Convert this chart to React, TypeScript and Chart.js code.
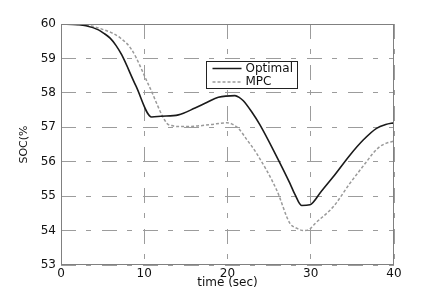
import React, { useEffect, useRef } from "react";
import { Chart, registerables } from "chart.js";

Chart.register(...registerables);

const optimalT = [0, 2, 3, 4.5, 5.2, 5.9, 6.6, 7.3, 9, 10.9, 12, 14.1, 16.1, 17.5, 18.9, 20.9, 21.4, 21.9, 22.9, 23.9, 25.8, 27.5, 28.1, 28.9, 29.9, 31.3, 32.7, 34.7, 36.3, 37.9, 39, 40];
const optimalSoc = [60, 59.98, 59.95, 59.83, 59.72, 59.59, 59.38, 59.1, 58.2, 57.3, 57.32, 57.36, 57.56, 57.72, 57.87, 57.92, 57.87, 57.77, 57.45, 57.07, 56.2, 55.37, 55.05, 54.73, 54.75, 55.15, 55.56, 56.19, 56.63, 56.97, 57.08, 57.13];

const mpcT = [0, 3, 5.3, 6.3, 7.1, 8.5, 10.6, 12.7, 13.3, 14.1, 16, 18, 19.9, 20.5, 21.3, 22.3, 23.5, 25.9, 27.5, 28.3, 29.1, 29.9, 30.5, 32.7, 34.7, 36.7, 37.5, 38.3, 39.1, 40];
const mpcSoc = [60, 59.97, 59.82, 59.72, 59.6, 59.25, 58.19, 57.12, 57.05, 57.02, 57.03, 57.08, 57.13, 57.1, 56.97, 56.65, 56.24, 55.18, 54.21, 54.07, 54.0, 54.05, 54.2, 54.69, 55.37, 56.0, 56.25, 56.44, 56.54, 56.6];

const seriesNames = ["Optimal", "MPC"];
const xTicks = [0, 10, 20, 30, 40];
const yTicks = [53, 54, 55, 56, 57, 58, 59, 60];

const FONT = "'DejaVu Sans', 'Liberation Sans', sans-serif";
const GRID_DASH = [15, 10, 5, 11];

const framePlugin = {
  id: "frameAndLegend",
  afterDraw(chart: any) {
    const { ctx, chartArea: ca } = chart;
    ctx.save();
    // frame
    ctx.strokeStyle = "#808080";
    ctx.lineWidth = 1;
    ctx.setLineDash([]);
    ctx.strokeRect(ca.left + 0.5, ca.top + 0.5, ca.right - ca.left - 1, ca.bottom - ca.top - 1);
    // legend
    const w = ca.right - ca.left;
    const h = ca.bottom - ca.top;
    const lx0 = Math.round(ca.left + 0.435 * w) + 0.5;
    const lx1 = Math.round(ca.left + 0.709 * w) + 0.5;
    const ly0 = Math.round(ca.top + 0.154 * h) + 0.5;
    const ly1 = Math.round(ca.top + 0.266 * h) + 0.5;
    ctx.fillStyle = "#ffffff";
    ctx.fillRect(lx0, ly0, lx1 - lx0, ly1 - ly0);
    ctx.strokeStyle = "#222222";
    ctx.strokeRect(lx0, ly0, lx1 - lx0, ly1 - ly0);
    const rows = [
      { name: seriesNames[0], color: "#1a1a1a", dash: [] as number[], y: ly0 + 7 },
      { name: seriesNames[1], color: "#9a9a9a", dash: [3, 2], y: ly0 + 20.5 },
    ];
    ctx.font = `12px ${FONT}`;
    ctx.textBaseline = "middle";
    ctx.textAlign = "left";
    for (const r of rows) {
      ctx.beginPath();
      ctx.setLineDash(r.dash);
      ctx.strokeStyle = r.color;
      ctx.lineWidth = 1.5;
      ctx.moveTo(lx0 + 6, r.y);
      ctx.lineTo(lx0 + 35, r.y);
      ctx.stroke();
      ctx.fillStyle = "#111111";
      ctx.fillText(r.name, lx0 + 39, r.y);
    }
    ctx.restore();
  },
};

export default function App() {
  const ref = useRef<HTMLCanvasElement | null>(null);
  useEffect(() => {
    if (!ref.current) return;
    const chart = new Chart(ref.current, {
      type: "line",
      data: {
        datasets: [
          {
            label: seriesNames[0],
            data: optimalT.map((t, i) => ({ x: t, y: optimalSoc[i] })),
            borderColor: "#1a1a1a",
            borderWidth: 1.6,
            pointRadius: 0,
            cubicInterpolationMode: "monotone",
          },
          {
            label: seriesNames[1],
            data: mpcT.map((t, i) => ({ x: t, y: mpcSoc[i] })),
            borderColor: "#9a9a9a",
            borderWidth: 1.5,
            borderDash: [3, 2],
            pointRadius: 0,
            cubicInterpolationMode: "monotone",
          },
        ],
      },
      options: {
        animation: false,
        responsive: false,
        devicePixelRatio: 1,
        layout: { padding: { top: 24, right: 39, left: 0, bottom: 0 } },
        plugins: { legend: { display: false }, tooltip: { enabled: false } },
        scales: {
          x: {
            type: "linear",
            min: 0,
            max: 40,
            afterFit: (s: any) => { s.height = 35; },
            afterBuildTicks: (s: any) => { s.ticks = xTicks.map((v) => ({ value: v })); },
            ticks: { color: "#111", font: { family: FONT, size: 12 }, padding: 2 },
            grid: { color: "#9c9c9c", lineWidth: 1, drawTicks: false },
            border: { display: false, dash: GRID_DASH },
            title: { display: true, text: "time (sec)", color: "#111", font: { family: FONT, size: 12 }, padding: { top: 0, bottom: 10 } },
          },
          y: {
            type: "linear",
            min: 53,
            max: 60,
            afterFit: (s: any) => { s.width = 61; },
            afterBuildTicks: (s: any) => { s.ticks = yTicks.map((v) => ({ value: v })); },
            ticks: { color: "#111", font: { family: FONT, size: 12 }, padding: 5 },
            grid: { color: "#9c9c9c", lineWidth: 1, drawTicks: false },
            border: { display: false, dash: GRID_DASH },
            title: { display: true, text: "SOC(%", color: "#111", font: { family: FONT, size: 11 }, padding: { top: 18, bottom: 0 } },
          },
        },
      },
      plugins: [framePlugin],
    } as any);
    return () => chart.destroy();
  }, []);
  return (
    <div style={{ position: "absolute", left: 0, top: 0, width: 433, height: 300, background: "#fff" }}>
      <canvas ref={ref} width={433} height={300} style={{ width: 433, height: 300, display: "block" }} />
    </div>
  );
}
